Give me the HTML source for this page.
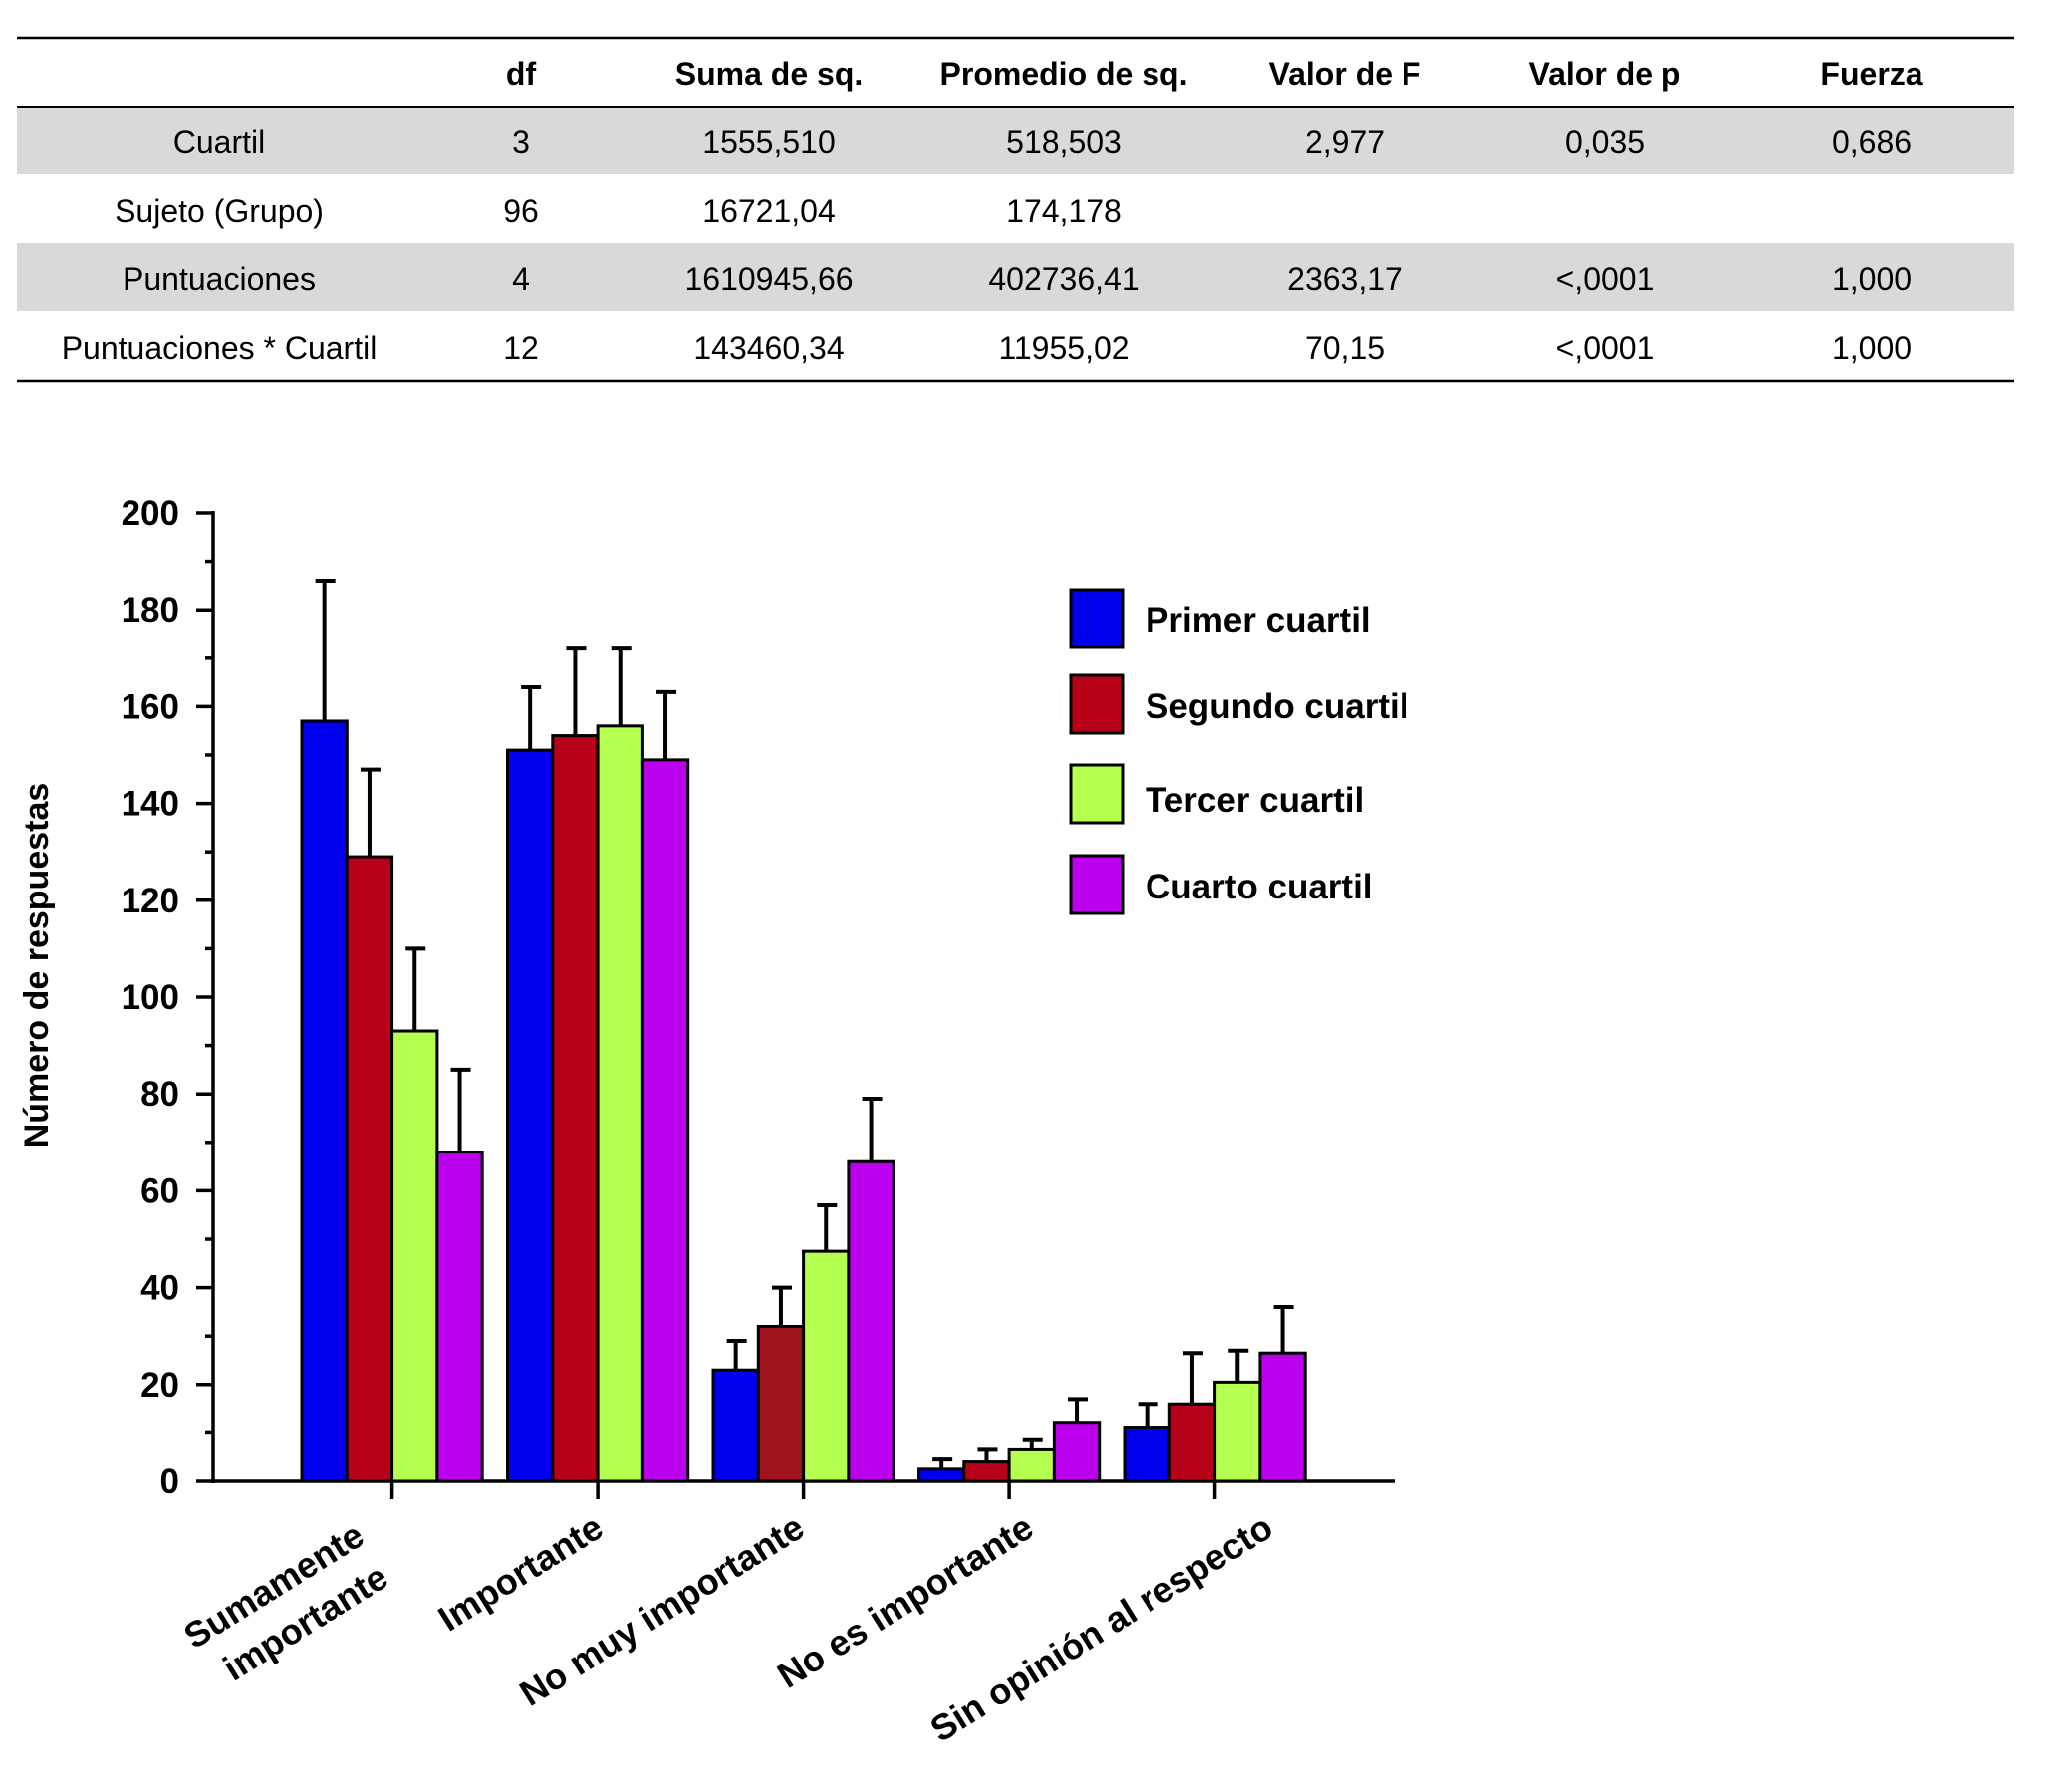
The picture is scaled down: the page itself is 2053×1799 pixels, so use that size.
<!DOCTYPE html>
<html><head><meta charset="utf-8"><style>
html,body{margin:0;padding:0;background:#fff;}
svg{display:block;font-family:"Liberation Sans",sans-serif;}
</style></head><body>
<svg width="2053" height="1799" viewBox="0 0 2053 1799" xmlns="http://www.w3.org/2000/svg">
<!-- table -->
<rect x="17" y="107" width="2005" height="68" fill="#d9d9d9"/>
<rect x="17" y="244" width="2005" height="68" fill="#d9d9d9"/>
<line x1="17" y1="38" x2="2022" y2="38" stroke="#000" stroke-width="2.5"/>
<line x1="17" y1="107" x2="2022" y2="107" stroke="#000" stroke-width="2"/>
<line x1="17" y1="382" x2="2022" y2="382" stroke="#000" stroke-width="2.5"/>
<g font-size="32" text-anchor="middle" fill="#000">
<g font-weight="bold"><text x="523" y="85">df</text><text x="772" y="85">Suma de sq.</text><text x="1068" y="85">Promedio de sq.</text><text x="1350" y="85">Valor de F</text><text x="1611" y="85">Valor de p</text><text x="1879" y="85">Fuerza</text></g>
<g><text x="220" y="154">Cuartil</text><text x="523" y="154">3</text><text x="772" y="154">1555,510</text><text x="1068" y="154">518,503</text><text x="1350" y="154">2,977</text><text x="1611" y="154">0,035</text><text x="1879" y="154">0,686</text></g>
<g><text x="220" y="223">Sujeto (Grupo)</text><text x="523" y="223">96</text><text x="772" y="223">16721,04</text><text x="1068" y="223">174,178</text></g>
<g><text x="220" y="291">Puntuaciones</text><text x="523" y="291">4</text><text x="772" y="291">1610945,66</text><text x="1068" y="291">402736,41</text><text x="1350" y="291">2363,17</text><text x="1611" y="291">&lt;,0001</text><text x="1879" y="291">1,000</text></g>
<g><text x="220" y="360">Puntuaciones * Cuartil</text><text x="523" y="360">12</text><text x="772" y="360">143460,34</text><text x="1068" y="360">11955,02</text><text x="1350" y="360">70,15</text><text x="1611" y="360">&lt;,0001</text><text x="1879" y="360">1,000</text></g>
</g>
<!-- axes -->
<g stroke="#000" stroke-width="3.5" id="ax">
<line x1="214" y1="513" x2="214" y2="1489"/>
<line x1="212" y1="1487" x2="1400" y2="1487"/>
</g>
<g font-size="35" font-weight="bold" text-anchor="end" id="yl"></g>
<text x="0" y="0" font-size="34" font-weight="bold" text-anchor="middle" transform="translate(48,969) rotate(-90)">Número de respuestas</text>
<g stroke="#000" stroke-width="4" fill="none" id="err"></g>
<g id="bars" stroke="#000" stroke-width="3"></g>
<!-- legend -->
<g stroke="#000" stroke-width="3">
<rect x="1075" y="592" width="52" height="58" fill="#0000ee"/>
<rect x="1075" y="678" width="52" height="58" fill="#b80018"/>
<rect x="1075" y="768" width="52" height="58" fill="#b5ff50"/>
<rect x="1075" y="859" width="52" height="58" fill="#bb00ee"/>
</g>
<g font-size="35" font-weight="bold">
<text x="1150" y="634">Primer cuartil</text>
<text x="1150" y="721">Segundo cuartil</text>
<text x="1150" y="815">Tercer cuartil</text>
<text x="1150" y="902">Cuarto cuartil</text>
</g>
<!-- x labels -->
<g font-size="36" font-weight="bold" text-anchor="end">
<text transform="translate(368,1548) rotate(-32)">Sumamente</text>
<text transform="translate(392,1590) rotate(-32)">importante</text>
<text transform="translate(608,1540) rotate(-32)">Importante</text>
<text transform="translate(810,1540) rotate(-32)">No muy importante</text>
<text transform="translate(1040,1540) rotate(-32)">No es importante</text>
<text transform="translate(1280,1540) rotate(-32)">Sin opinión al respecto</text>
</g>
<script>
(function(){
var ns="http://www.w3.org/2000/svg";
function el(t,a,p){var e=document.createElementNS(ns,t);for(var k in a)e.setAttribute(k,a[k]);p.appendChild(e);return e;}
function y(v){return 1487-v*4.86;}
var AX=document.getElementById("ax"),YL=document.getElementById("yl");
for(var v=0;v<=200;v+=10){
 var yy=y(v);
 el("line",{x1:(v%20?206:197),y1:yy,x2:214,y2:yy},AX);
 if(v%20==0){var t=el("text",{x:180,y:yy+12},YL);t.textContent=v;}
}
var cols=["#0000ee","#b80018","#b5ff50","#bb00ee"];
var d=[[[157,186],[129,147],[93,110],[68,85]],[[151,164],[154,172],[156,172],[149,163]],[[23,29],[32,40],[47.5,57],[66,79]],[[2.5,4.5],[4,6.5],[6.5,8.5],[12,17]],[[11,16],[16,26.5],[20.5,27],[26.5,36]]];
var w=45.3,sp=206.5,s0=303;
var B=document.getElementById("bars"),E=document.getElementById("err");
for(var g=0;g<5;g++){
 var gs=s0+g*sp;
 el("line",{x1:gs+2*w,y1:1487,x2:gs+2*w,y2:1505},AX);
 for(var i=0;i<4;i++){
 var x=gs+i*w,vv=d[g][i];
 var c=cols[i]; if(g==2&&i==1)c="#a0141e";
 el("rect",{x:x,y:y(vv[0]),width:w,height:1487-y(vv[0]),fill:c},B);
 var cx=x+w/2;
 el("path",{d:"M"+cx+" "+y(vv[0])+"V"+y(vv[1])+"M"+(cx-9)+" "+y(vv[1])+"H"+(cx+11)},E);
}}
})();
</script>
</svg>
</body></html>
